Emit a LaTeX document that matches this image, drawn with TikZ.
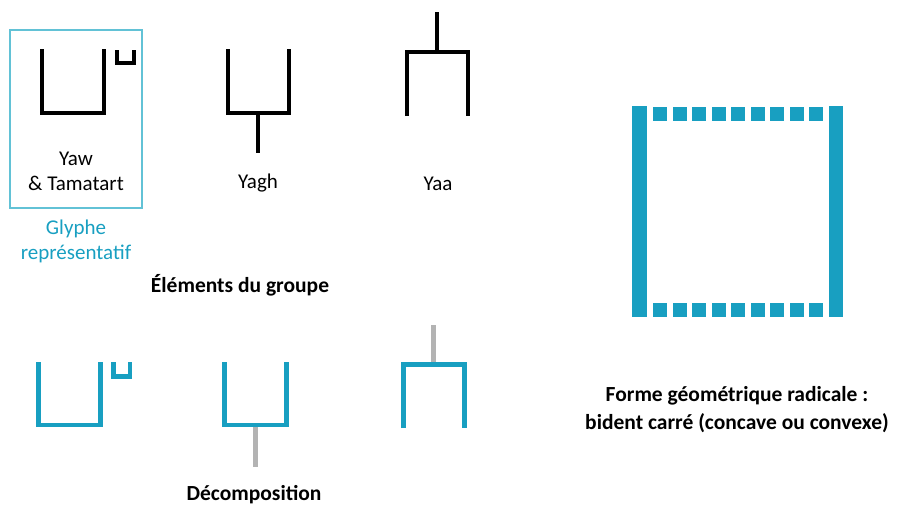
\documentclass[tikz,border=0pt]{standalone}
\usepackage{fontspec}
\setmainfont{Carlito}
\definecolor{glyphblue}{HTML}{189FC1}
\definecolor{boxblue}{HTML}{62C2D6}
\definecolor{stemgray}{HTML}{B3B3B3}

\begin{document}
\begin{tikzpicture}
  [x=1pt,y=-1pt,
   every node/.style={font=\fontsize{21}{25}\selectfont,inner sep=0pt,anchor=base,align=center},
   titre/.style={font=\fontsize{21.5}{28}\selectfont\bfseries},
   trait/.style={line width=4.5pt,line join=miter},
   petit/.style={line width=4.5pt,line join=miter}]
  \useasboundingbox (0,0) rectangle (897,504);

  % groupe : glyphes noirs
  \draw[boxblue,line width=1.2pt] (10,30) rectangle (142,208);
  \draw[trait] (42,49) -- (42,113) -- (104,113) -- (104,49);
  \draw[petit] (117,50) -- (117,63) -- (134,63) -- (134,50);
  \draw[trait] (228,49) -- (228,113) -- (289,113) -- (289,49);
  \draw[trait] (258,113) -- (258,153);
  \draw[trait] (407,116) -- (407,52) -- (468,52) -- (468,116);
  \draw[trait] (437,12) -- (437,52);

  \node (yaw) at (76,190) {Yaw\\\& Tamatart};
  \node (yagh) at (258,188) {Yagh};
  \node (yaa) at (438,190) {Yaa};
  \node (glyphe) at (76,259) [text=glyphblue] {Glyphe\\représentatif};
  \node (elements) at (240,292) [titre] {Éléments du groupe};

  % décomposition
  \draw[trait,stemgray] (255.5,427) -- (255.5,467);
  \draw[trait,stemgray] (433.5,325) -- (433.5,364);
  \draw[trait,glyphblue] (38.5,362) -- (38.5,425) -- (100.5,425) -- (100.5,362);
  \draw[petit,glyphblue] (113.5,362) -- (113.5,376.5) -- (130,376.5) -- (130,362);
  \draw[trait,glyphblue] (224.5,362) -- (224.5,425) -- (286.5,425) -- (286.5,362);
  \draw[trait,glyphblue] (403.5,428) -- (403.5,364.5) -- (464.5,364.5) -- (464.5,428);

  \node (decomp) at (254,500) [titre] {Décomposition};

  % forme radicale
  \fill[glyphblue] (632,106) rectangle (647,317);
  \fill[glyphblue] (829,106) rectangle (843,317);
  \foreach \i in {0,...,8} {
    \fill[glyphblue] (653+19.5*\i,107) rectangle +(14,14);
    \fill[glyphblue] (653+19.5*\i,303) rectangle +(14,14);
  }

  \node (forme) at (737,429) [titre] {Forme géométrique radicale :\\bident carré (concave ou convexe)};

\end{tikzpicture}
\end{document}
